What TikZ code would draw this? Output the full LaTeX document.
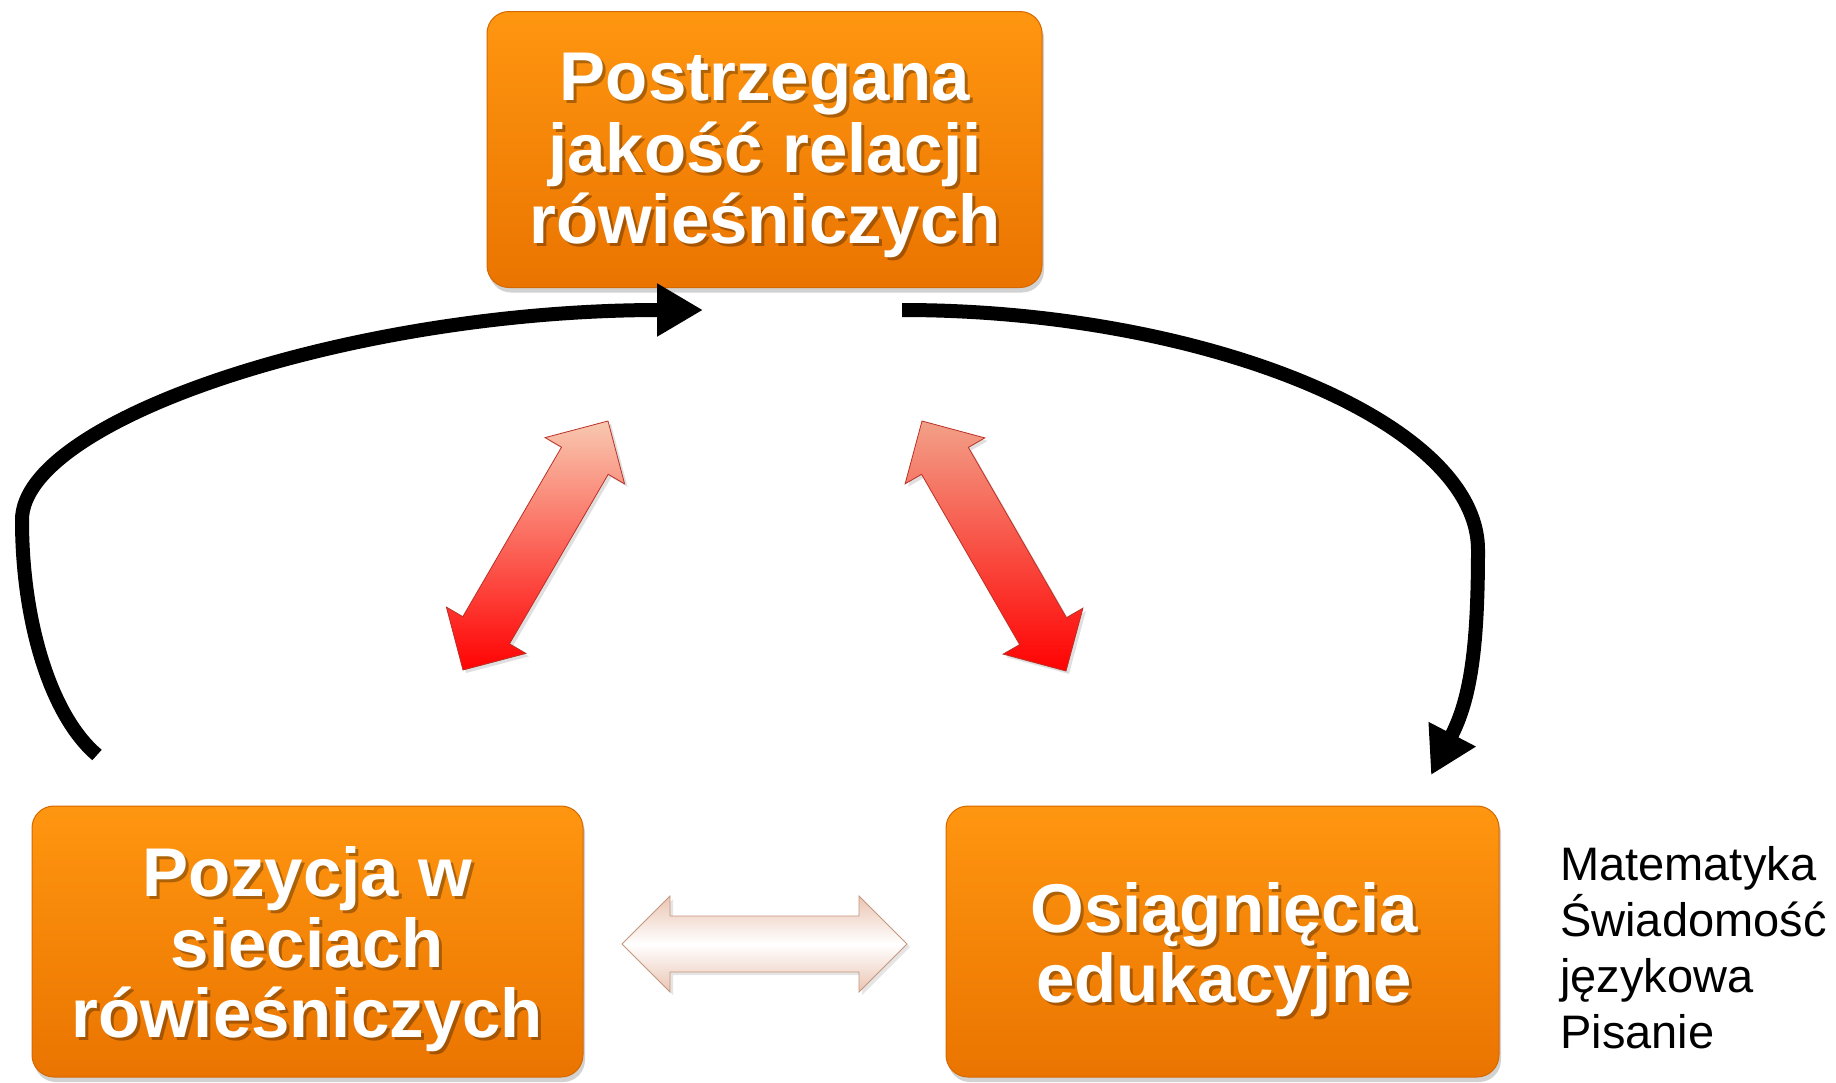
\documentclass[tikz,border=0pt]{standalone}
\usepackage{fontspec}
\setmainfont{Liberation Sans}
\usetikzlibrary{arrows.meta,calc,shadows}
\definecolor{orTop}{RGB}{255,150,16}
\definecolor{orBot}{RGB}{234,116,0}
\definecolor{orEdge}{RGB}{214,104,0}
\definecolor{peach}{RGB}{248,200,176}
\definecolor{peachB}{RGB}{242,160,136}
\definecolor{salmon}{RGB}{250,110,88}
\definecolor{pureRed}{RGB}{255,2,2}
\definecolor{redEdge}{RGB}{186,48,38}
\definecolor{pinkEdge}{RGB}{234,196,178}
\definecolor{tanEdge}{RGB}{196,150,126}
\tikzset{
  box/.style={rounded corners=22pt, top color=orTop, bottom color=orBot,
    draw=orEdge, line width=1pt,
    drop shadow={shadow xshift=2pt, shadow yshift=-5pt, opacity=0.35}},
  boxline/.style={font=\fontsize{69}{72}\selectfont\bfseries, text=white,
    inner sep=0pt, anchor=base},
  boxshade/.style={boxline, text=black, text opacity=0.3},
  sidetext/.style={font=\fontsize{47}{56}\selectfont, text=black,
    inner sep=0pt, anchor=base west},
  loopline/.style={line width=14pt, -{Triangle[length=46pt,width=50pt]}},
  redarrow/.style={draw=redEdge, line width=0.8pt,
    drop shadow={shadow xshift=3pt, shadow yshift=-3pt, opacity=0.25}},
  palearrow/.style={draw=tanEdge, line width=0.8pt,
    top color=pinkEdge, bottom color=pinkEdge, middle color=white,
    drop shadow={shadow xshift=3pt, shadow yshift=-3pt, opacity=0.2}}
}
\newcommand\wline[3]{%
  \node[boxshade] (#1s) at ($(#2)+(3,3)$) {#3};
  \node[boxline] (#1) at (#2) {#3};}
% double arrow: #1 A, #2 B, #3 shaft half width, #4 head half width, #5 head length, #6 style
\newcommand\dblarrow[6]{%
  \path[#6] (#1)
    -- ($(#1)!#5!(#2)!#4!90:(#2)$)
    -- ($(#1)!#5!(#2)!#3!90:(#2)$)
    -- ($(#2)!#5!(#1)!#3!-90:(#1)$)
    -- ($(#2)!#5!(#1)!#4!-90:(#1)$)
    -- (#2)
    -- ($(#2)!#5!(#1)!#4!90:(#1)$)
    -- ($(#2)!#5!(#1)!#3!90:(#1)$)
    -- ($(#1)!#5!(#2)!#3!-90:(#2)$)
    -- ($(#1)!#5!(#2)!#4!-90:(#2)$)
    -- cycle;}
\begin{document}
\begin{tikzpicture}[x=1pt,y=-1pt]
\useasboundingbox (0,0) rectangle (1836,1082);
\fill[white] (0,0) rectangle (1836,1082);

% boxes
\node[box, minimum width=555pt, minimum height=276pt] (top) at (764.5,149.5) {};
\node[box, minimum width=551pt, minimum height=271pt] (left) at (307.5,941.5) {};
\node[box, minimum width=553pt, minimum height=271pt] (right) at (1222.5,941.5) {};

% box texts
\wline{t1}{765,100}{Postrzegana}
\wline{t2}{765,172}{jakość relacji}
\wline{t3}{765,243}{rówieśniczych}
\wline{l1}{307,896}{Pozycja w}
\wline{l2}{307,967}{sieciach}
\wline{l3}{307,1037}{rówieśniczych}
\wline{r1}{1224,932}{Osiągnięcia}
\wline{r2}{1224,1002}{edukacyjne}

% side list
\node[sidetext] (m1) at (1560,880) {Matematyka};
\node[sidetext] (m2) at (1560,936) {Świadomość};
\node[sidetext] (m3) at (1560,992) {językowa};
\node[sidetext] (m4) at (1560,1048) {Pisanie};

% black loop arrows
\coordinate (ls) at (97,755);
\coordinate (lt) at (703,310);
\coordinate (rs) at (902,310);
\coordinate (rt) at (1431,775);
\draw[loopline] (ls) .. controls (50,715) and (22,620) .. (22,520)
  .. controls (22,420) and (350,310) .. (lt);
\draw[loopline] (rs) .. controls (1200,310) and (1478,420) .. (1478,550)
  .. controls (1478,650) and (1470,700) .. (rt);

% red double arrows
\coordinate (la) at (463,670);
\coordinate (lb) at (608,421);
\coordinate (ra) at (922,421);
\coordinate (rb) at (1066,671);
\dblarrow{la}{lb}{27pt}{46pt}{46pt}{redarrow, shading angle=-30, top color=peach, middle color=salmon, bottom color=pureRed}
\dblarrow{ra}{rb}{27pt}{46pt}{46pt}{redarrow, shading angle=30, top color=peachB, middle color=pureRed, bottom color=pureRed}

% horizontal pale double arrow
\coordinate (ha) at (622,944);
\coordinate (hb) at (907,944);
\dblarrow{ha}{hb}{28pt}{48pt}{48pt}{palearrow}
\end{tikzpicture}
\end{document}
